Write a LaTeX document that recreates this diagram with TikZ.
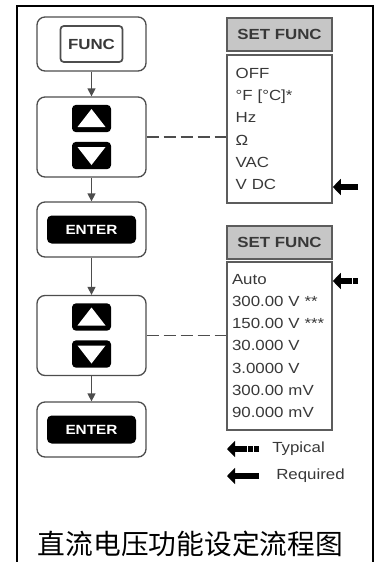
\documentclass[tikz,border=0pt]{standalone}
\usepackage{fontspec}
\setmainfont[FakeStretch=1.15]{Liberation Sans}
\newfontfamily\cjk{Noto Sans CJK SC}
\usepackage{xcolor}
\usepackage{tikz}
\usetikzlibrary{positioning,arrows.meta,calc}
\definecolor{mKeyLine}{HTML}{4D4D4D}
\definecolor{mListLine}{HTML}{5C5C5C}
\definecolor{mHeadFill}{HTML}{C6C6C6}
\definecolor{mText}{HTML}{383838}
\newcommand{\keyfont}{\fontsize{11}{13}\selectfont\bfseries}
\newcommand{\listfont}{\fontsize{11}{16.7}\selectfont}
\tikzset{
 keybox/.style={draw=mKeyLine, line width=1pt, rounded corners=6pt, minimum width=81.75pt},
 funckey/.style={draw=mKeyLine, line width=1.3pt, rounded corners=2.5pt, minimum width=46.5pt, minimum height=27pt, inner sep=0pt, font=\keyfont, text=mText},
 blackkey/.style={fill=black, rounded corners=3pt, inner sep=0pt, minimum width=29.25pt, minimum height=20.5pt},
 enterkey/.style={fill=black, rounded corners=3.5pt, inner sep=0pt, minimum width=66.75pt, minimum height=21pt, font=\fontsize{10}{12}\selectfont\bfseries, text=white},
 headbox/.style={draw=mListLine, line width=1.5pt, fill=mHeadFill, minimum width=78.75pt, minimum height=24.75pt, inner sep=0pt, font=\keyfont, text=mText},
 listbox/.style={draw=mListLine, line width=1.2pt, minimum width=78.75pt, align=left, font=\listfont, text=mText},
 flowarrow/.style={-{Triangle[width=6pt,length=6pt]}, line width=1.1pt, draw=mKeyLine},
 linkline/.style={draw=mKeyLine, line width=0.8pt, dash pattern=on 9pt off 3.75pt},
 reqarrow/.style={-{Triangle[width=12pt,length=6pt]}, line width=4.5pt},
 typtail/.style={line width=4.5pt, dash pattern=on 3.5pt off 1.2pt},
 legendlabel/.style={anchor=west, inner sep=0pt, font=\listfont, text=mText}
}
\newcommand{\udkey}[2]{%
 \node[keybox, minimum height=60pt] (#1) at (91.5,#2) {};%
 \node[blackkey] (#1up) at (91.5,#2-18.5) {};%
 \node[blackkey] (#1dn) at (91.5,#2+18.5) {};%
 \fill[white] ($(#1up)+(0,-9.5)$) -- ($(#1up)+(14,8.5)$) -- ($(#1up)+(-14,8.5)$) -- cycle;%
 \fill[white] ($(#1dn)+(0,9.5)$) -- ($(#1dn)+(14,-8.5)$) -- ($(#1dn)+(-14,-8.5)$) -- cycle;}

\begin{document}
\begin{tikzpicture}[x=0.75pt, y=-0.75pt]
\useasboundingbox (0,0) rectangle (382,562);
\draw[line width=1.5pt] (17,563) -- (17,6) -- (373,6) -- (373,563);

% key column
\node[keybox, minimum height=40.5pt] (func) at (91.5,44) {};
\node[funckey] (funcKey) at (func) {FUNC};
\udkey{ud1}{137}
\node[keybox, minimum height=41.25pt] (enter1) at (91.5,229.5) {};
\node[enterkey] (enterKey1) at (enter1) {ENTER};
\udkey{ud2}{335.5}
\node[keybox, minimum height=41.25pt] (enter2) at (91.5,429.5) {};
\node[enterkey] (enterKey2) at (enter2) {ENTER};
\draw[flowarrow] (func) -- (ud1);
\draw[flowarrow] (ud1) -- (enter1);
\draw[flowarrow] (enter1) -- (ud2);
\draw[flowarrow] (ud2) -- (enter2);

% display column
\node[headbox] (head1) at (279.5,34) {SET FUNC};
\node[listbox, minimum height=111pt, inner xsep=6.5pt, text width=65.75pt] (list1) at (279.5,129) {OFF\\°F [°C]*\\Hz\\Ω\\VAC\\V DC};
\node[headbox] (head2) at (279.5,242.5) {SET FUNC};
\node[listbox, minimum height=126pt, inner xsep=3.75pt, text width=71.25pt] (list2) at (279.5,346) {Auto\\300.00 V **\\150.00 V ***\\30.000 V\\3.0000 V\\300.00 mV\\90.000 mV};
\draw[linkline] (ud1.east) -- (ud1.east -| list1.west);
\draw[linkline] (ud2.east) -- (ud2.east -| list2.west);

% marks
\coordinate (vdcTail) at (358,187);
\draw[reqarrow] (vdcTail) -- (vdcTail -| list1.east);
\coordinate (autoTail) at (358,281);
\coordinate (autoMid) at (347,281);
\draw[typtail] (autoTail) -- (autoMid);
\draw[reqarrow] (autoMid) -- (autoMid -| list2.east);

% legend
\coordinate (typTip) at (227,449);
\coordinate (typMid) at (246,449);
\coordinate (typTail) at (259,449);
\draw[typtail] (typTail) -- (typMid);
\draw[reqarrow] (typMid) -- (typTip);
\node[legendlabel] (typLabel) at (272,449) {Typical};
\coordinate (reqTip) at (227,476);
\coordinate (reqTail) at (259,476);
\draw[reqarrow] (reqTail) -- (reqTip);
\node[legendlabel] (reqLabel) at (276,476) {Required};

\node[font=\cjk\fontsize{20.8}{24}\selectfont] (title) at (190.5,544) {直流电压功能设定流程图};
\end{tikzpicture}
\end{document}
